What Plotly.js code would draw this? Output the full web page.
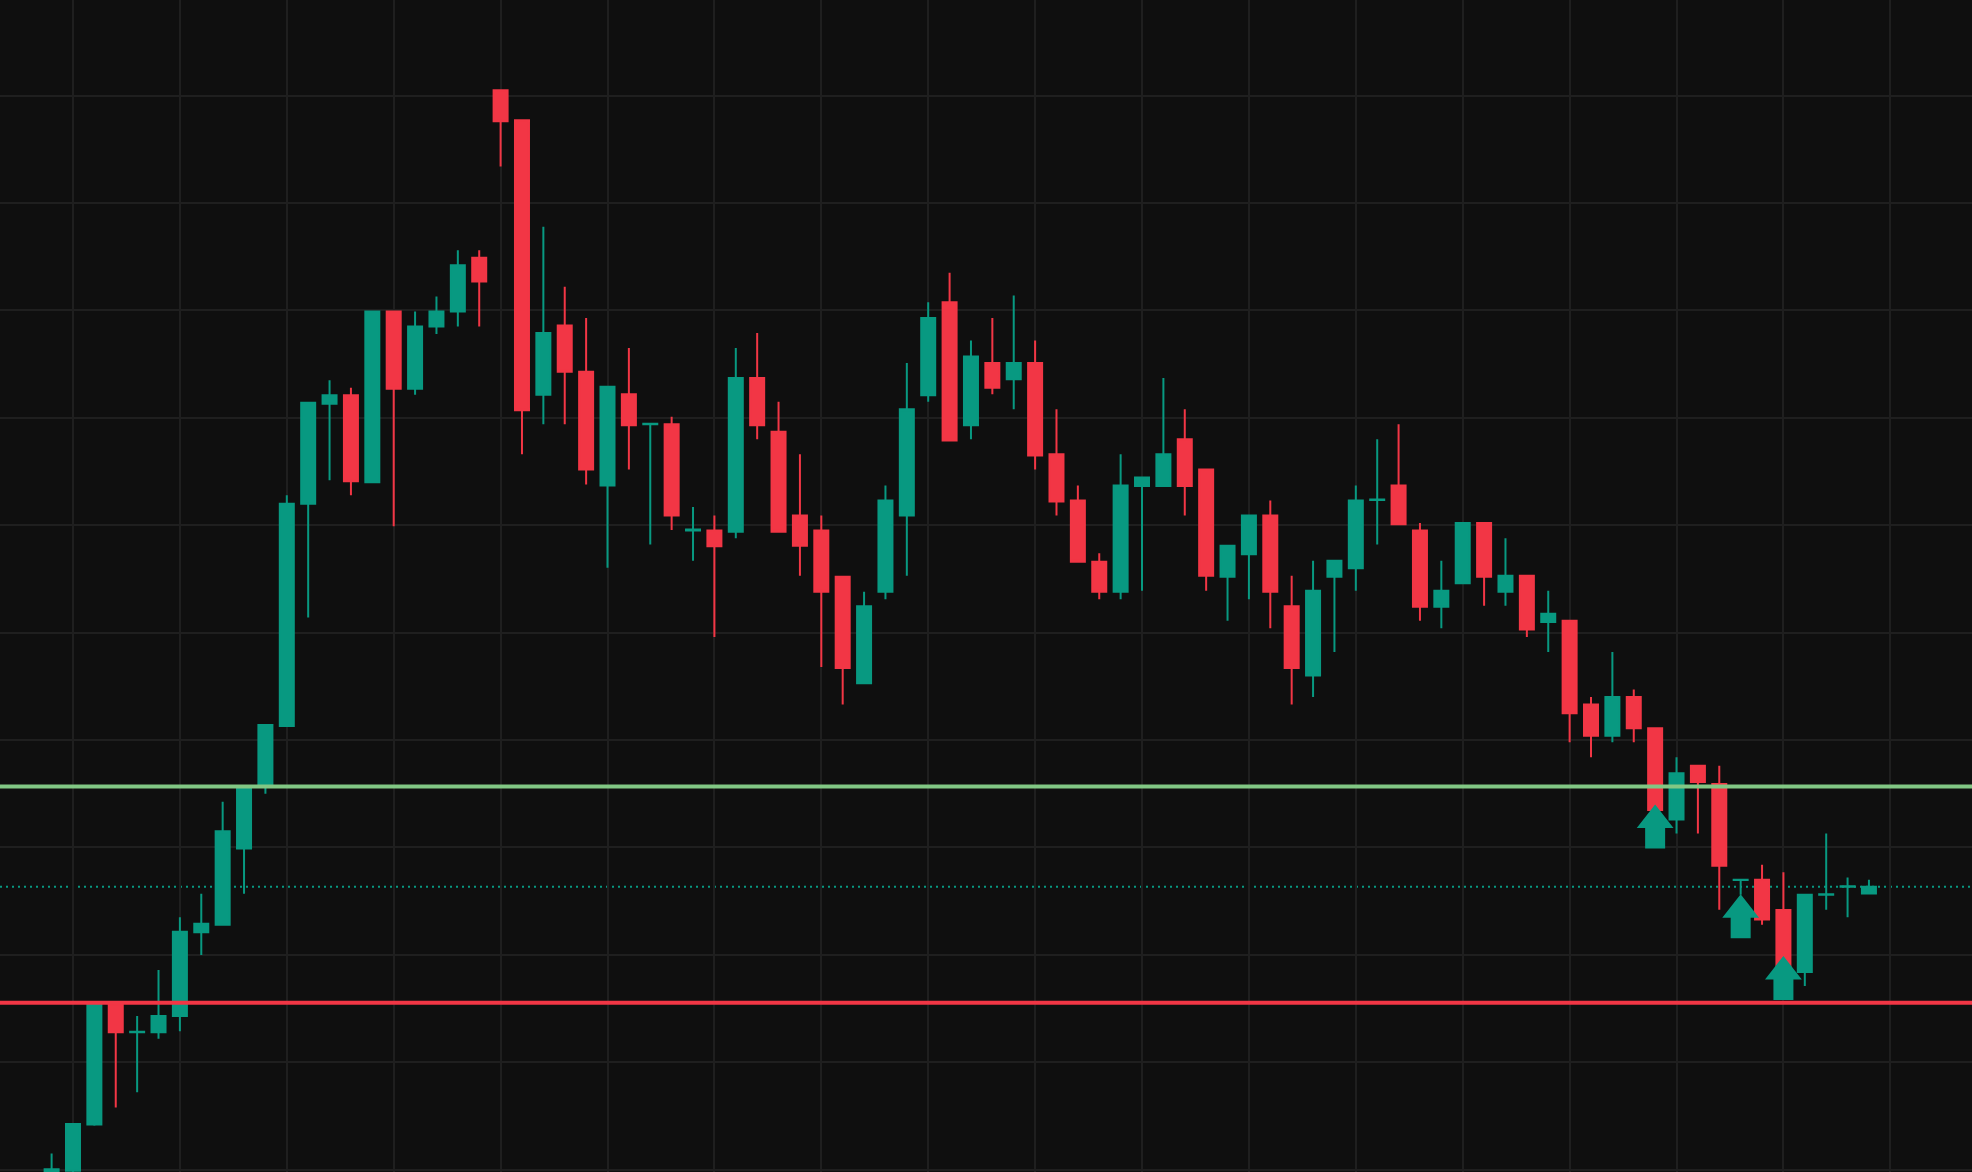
<!DOCTYPE html>
<html>
<head>
<meta charset="utf-8">
<script src="https://cdn.plot.ly/plotly-3.0.1.min.js"></script>
<style>
  html, body { margin: 0; padding: 0; background: #0f0f0f; }
  #chart { width: 1972px; height: 1172px; }
</style>
</head>
<body>
<div id="chart"></div>
<script>
// Bar numbers (first bar partly off-screen at the bottom-left)
const firstBar = -1;

const openP = [
  99.0, 99.9, 104.2, 115.4, 112.8, 112.8, 114.3, 122.1, 122.8, 129.9,
  135.65, 141.3, 162.0, 171.3, 172.1, 164.0, 179.9, 172.7, 178.5, 179.9,
  184.9, 200.5, 197.7, 172.15, 178.6, 174.3, 163.7, 172.2, 169.4, 169.4,
  159.5, 159.5, 159.4, 173.7, 168.7, 160.9, 159.5, 155.2, 145.3, 153.8,
  160.9, 172.1, 180.75, 169.3, 175.1, 173.6, 175.1, 166.6, 162.3, 156.6,
  153.8, 163.65, 163.65, 168.0, 165.2, 155.2, 157.3, 160.9, 152.45, 146.0,
  155.2, 156.0, 162.35, 163.7, 159.5, 152.4, 154.6, 160.2, 153.8, 155.3,
  151.0, 151.1, 143.3, 140.4, 144.0, 141.1, 132.6, 137.6, 135.9, 126.98,
  127.0, 124.17, 118.4, 125.6, 126.35, 125.72
];
const highP = [
  101.5, 104.25, 115.5, 115.6, 114.3, 118.6, 123.5, 125.7, 134.25, 135.8,
  141.4, 162.8, 171.4, 173.5, 172.8, 179.9, 179.9, 179.9, 181.3, 185.6,
  185.6, 200.5, 197.7, 187.8, 182.2, 179.3, 172.9, 176.5, 169.5, 170.1,
  161.7, 160.9, 176.5, 177.9, 171.5, 166.6, 160.9, 155.2, 153.8, 163.7,
  175.1, 180.75, 183.5, 177.2, 179.3, 181.4, 177.2, 170.8, 163.7, 157.4,
  166.6, 164.5, 173.7, 170.8, 165.2, 158.1, 160.9, 162.3, 155.3, 156.7,
  156.7, 163.7, 168.0, 169.4, 160.2, 156.7, 160.2, 160.2, 158.8, 155.3,
  153.9, 151.1, 144.0, 148.2, 144.7, 141.1, 138.4, 137.6, 137.6, 127.0,
  128.4, 127.7, 125.6, 131.3, 127.2, 127.0
];
const lowP = [
  98.5, 99.4, 104.1, 105.8, 107.2, 112.2, 112.9, 120.0, 122.8, 125.7,
  135.0, 141.3, 151.4, 164.2, 162.8, 164.0, 159.9, 172.15, 177.8, 178.5,
  178.5, 193.4, 166.6, 169.4, 169.4, 163.8, 156.05, 165.2, 158.2, 159.55,
  156.7, 149.6, 158.8, 168.0, 159.4, 155.3, 146.8, 143.3, 145.3, 153.1,
  155.3, 171.5, 167.9, 168.0, 172.2, 170.8, 165.2, 160.9, 156.6, 153.1,
  153.1, 153.9, 163.65, 160.9, 153.9, 151.1, 153.1, 150.4, 143.3, 144.0,
  148.2, 153.9, 158.2, 160.1, 151.1, 150.4, 154.6, 152.5, 152.5, 149.6,
  148.2, 139.8, 138.4, 139.8, 139.8, 133.3, 131.3, 131.3, 124.2, 125.6,
  122.8, 118.0, 117.1, 124.2, 123.5, 125.63
];
const closeP = [
  100.05, 104.25, 115.4, 112.8, 112.85, 114.3, 122.15, 122.9, 131.5, 135.6,
  141.4, 162.0, 171.4, 172.1, 164.1, 179.9, 172.7, 178.5, 179.9, 184.2,
  182.7, 197.6, 170.7, 177.9, 174.3, 165.2, 172.9, 169.3, 169.45, 160.9,
  159.6, 158.05, 173.7, 169.3, 159.4, 158.1, 153.8, 146.7, 152.45, 162.3,
  170.8, 179.3, 167.9, 175.7, 172.8, 175.1, 166.5, 162.2, 156.6, 153.8,
  163.7, 164.45, 166.6, 163.65, 155.3, 158.1, 160.9, 153.8, 146.7, 153.9,
  156.7, 162.3, 162.4, 160.1, 152.4, 153.9, 160.2, 155.2, 155.3, 150.3,
  151.75, 142.5, 140.4, 144.0, 141.1, 133.5, 136.9, 136.1, 128.3, 127.0,
  123.3, 118.4, 125.6, 125.65, 126.4, 126.35
];

// Horizontal levels
const resistanceLevel = 135.67;
const supportLevel = 115.55;

// Buy signals (bar number, arrow tip price)
const signalBars = [74, 78, 80];
const signalPrices = [134.0, 125.65, 119.9];

// ---- styling ----
const UP = '#089981';
const DOWN = '#F23645';
const BG = '#0f0f0f';
const GRID = '#1f1f1f';

const bars = openP.map((_, i) => firstBar + i);
const lastClose = closeP[closeP.length - 1];

const trace = {
  type: 'candlestick',
  x: bars,
  open: openP,
  high: highP,
  low: lowP,
  close: closeP,
  whiskerwidth: 0,
  increasing: { line: { color: UP, width: 2 }, fillcolor: UP },
  decreasing: { line: { color: DOWN, width: 2 }, fillcolor: DOWN },
  hoverinfo: 'skip',
  showlegend: false
};

const arrowPath = 'M0,0 L18.4,-23.5 L10,-23.5 L10,-44 L-10,-44 L-10,-23.5 L-18.4,-23.5 Z';

const shapes = [
  { type: 'line', xref: 'paper', x0: 0, x1: 1, yref: 'y', y0: lastClose, y1: lastClose,
    line: { color: UP, width: 2, dash: '2px,4px' }, layer: 'between' },
  { type: 'line', xref: 'paper', x0: 0, x1: 1, yref: 'y', y0: resistanceLevel, y1: resistanceLevel,
    line: { color: '#81C784', width: 4 }, layer: 'above' },
  { type: 'line', xref: 'paper', x0: 0, x1: 1, yref: 'y', y0: supportLevel, y1: supportLevel,
    line: { color: DOWN, width: 4 }, layer: 'above' }
];
signalBars.forEach((b, k) => {
  shapes.push({
    type: 'path', xref: 'x', yref: 'y',
    xsizemode: 'pixel', ysizemode: 'pixel',
    xanchor: b, yanchor: signalPrices[k],
    path: arrowPath,
    fillcolor: UP, line: { width: 0 }, layer: 'above'
  });
});

const layout = {
  width: 1972, height: 1172,
  margin: { l: 0, r: 0, t: 0, b: 0, pad: 0 },
  paper_bgcolor: BG, plot_bgcolor: BG,
  showlegend: false,
  boxgap: 0.345, boxgroupgap: 0,
  xaxis: {
    range: [-3.414, 88.82], fixedrange: true,
    rangeslider: { visible: false },
    showgrid: true, gridcolor: GRID, gridwidth: 2,
    tick0: 0, dtick: 5, tickmode: 'linear',
    showticklabels: false, ticks: '', zeroline: false, showline: false
  },
  yaxis: {
    range: [99.786, 208.90], fixedrange: true,
    showgrid: true, gridcolor: GRID, gridwidth: 2,
    tick0: 0, dtick: 10, tickmode: 'linear',
    showticklabels: false, ticks: '', zeroline: false, showline: false
  },
  shapes: shapes
};

Plotly.newPlot('chart', [trace], layout, { staticPlot: true, displayModeBar: false });
</script>
</body>
</html>
